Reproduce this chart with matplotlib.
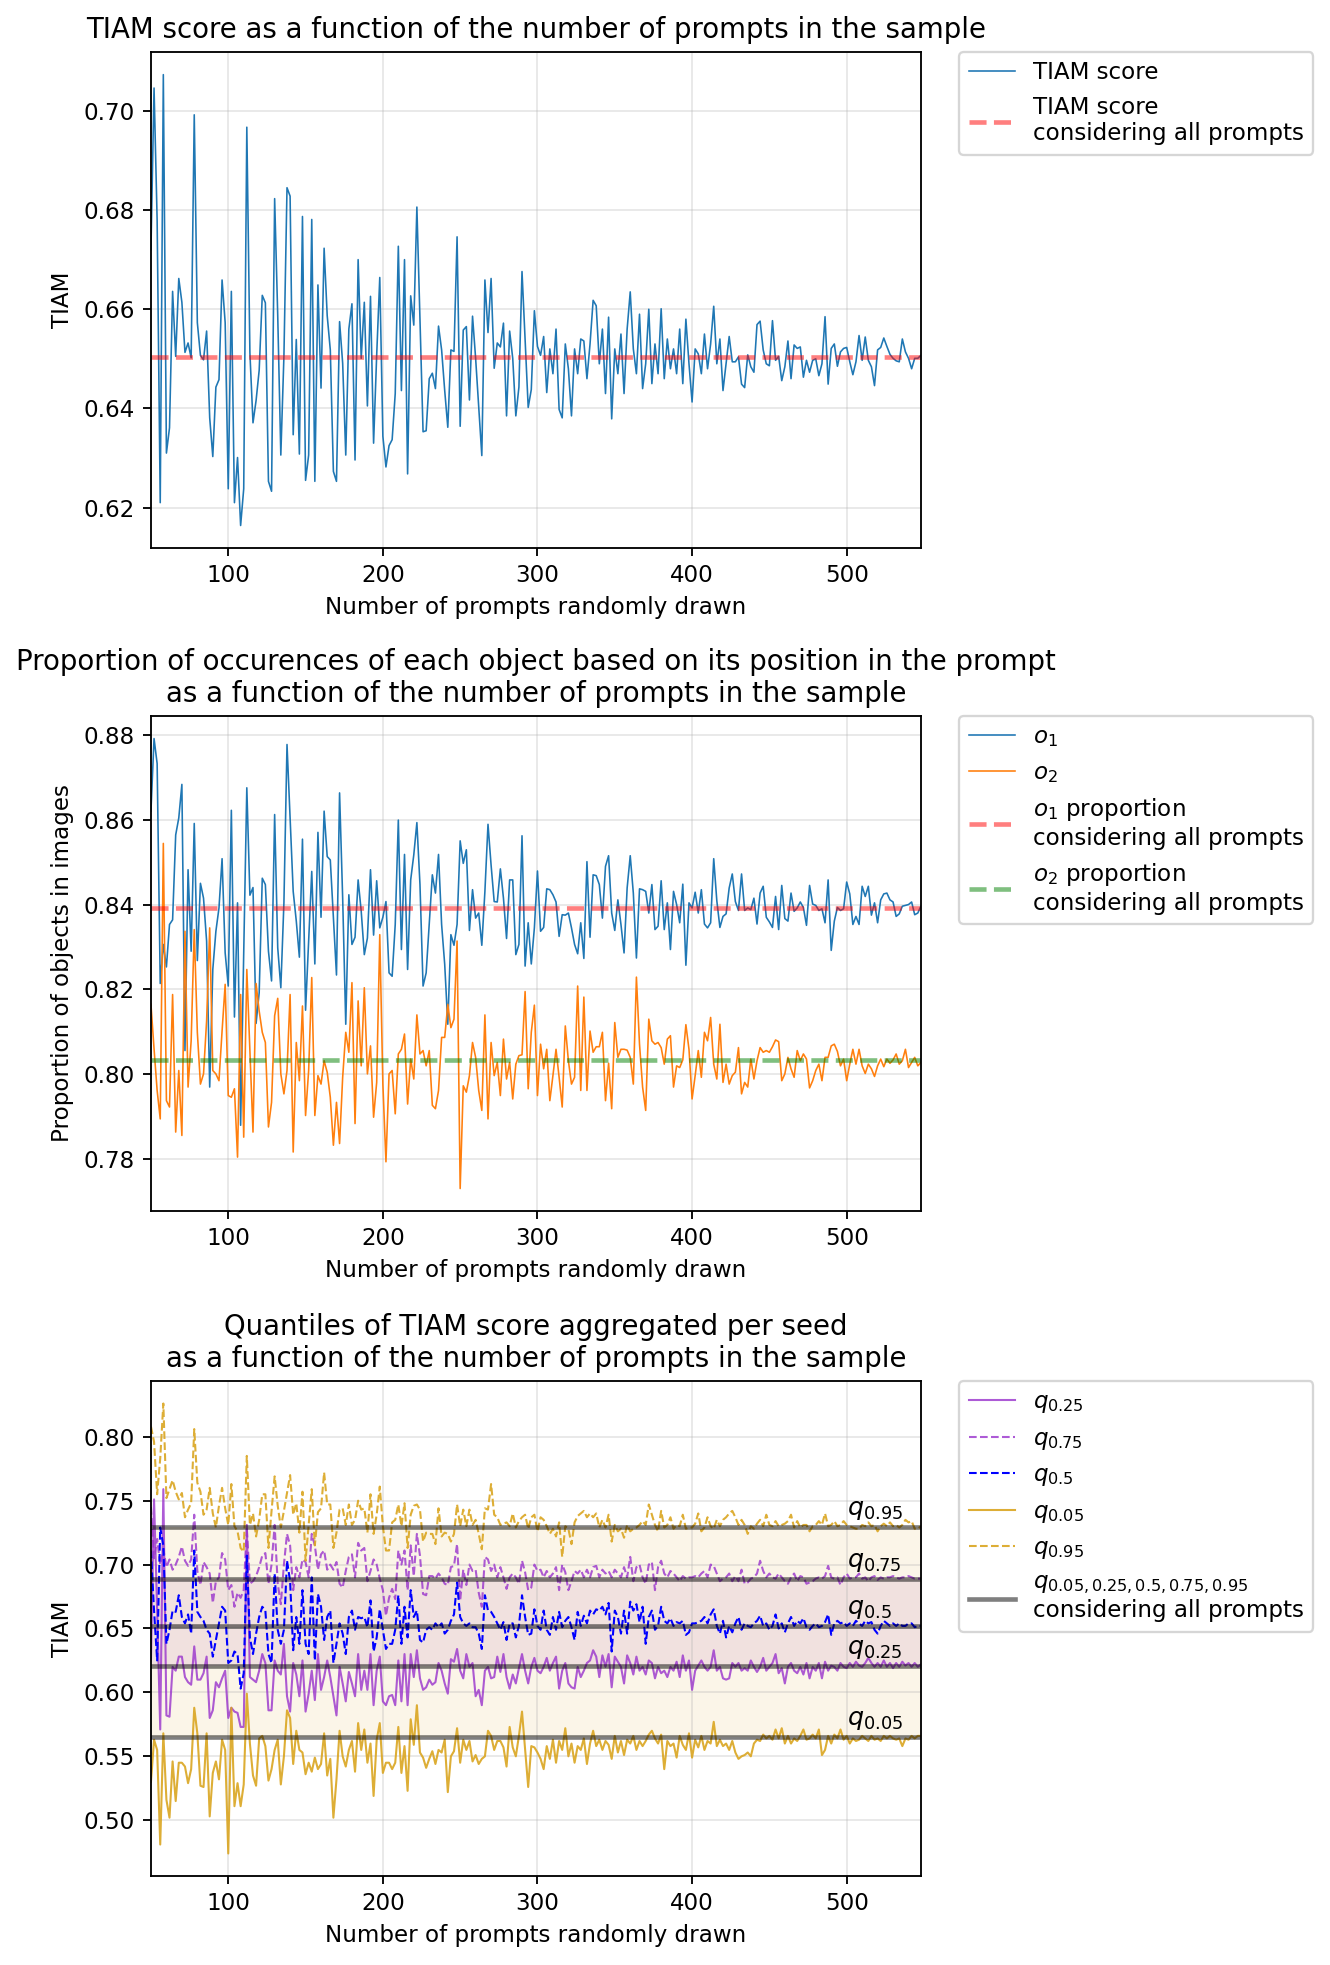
import numpy as np
import matplotlib
matplotlib.use("Agg")
import matplotlib.pyplot as plt

n_prompts = list(range(50, 550, 2))

tiam_score = [
    0.672, 0.7046, 0.6779, 0.6210, 0.7073, 0.6310, 0.6361, 0.6636, 0.6505, 0.6662,
    0.6614, 0.6513, 0.6532, 0.6502, 0.6992, 0.6573, 0.6507, 0.6498, 0.6556, 0.6381,
    0.6303, 0.6443, 0.6458, 0.6659, 0.6573, 0.6238, 0.6636, 0.6210, 0.6301, 0.6164,
    0.6238, 0.6967, 0.6512, 0.6371, 0.6416, 0.6477, 0.6628, 0.6613, 0.6253, 0.6233,
    0.6823, 0.6587, 0.6306, 0.6505, 0.6845, 0.6828, 0.6347, 0.6539, 0.6308, 0.6787,
    0.6255, 0.6306, 0.6781, 0.6253, 0.6649, 0.6441, 0.6723, 0.6587, 0.6518, 0.6273,
    0.6253, 0.6575, 0.6491, 0.6306, 0.6560, 0.6611, 0.6296, 0.6700, 0.6501, 0.6614,
    0.6405, 0.6626, 0.6330, 0.6507, 0.6664, 0.6344, 0.6282, 0.6325, 0.6337, 0.6430,
    0.6727, 0.6436, 0.6700, 0.6268, 0.6627, 0.6568, 0.6806, 0.6580, 0.6353, 0.6355,
    0.6460, 0.6471, 0.6440, 0.6566, 0.6518, 0.6436, 0.6362, 0.6518, 0.6515, 0.6746,
    0.6364, 0.6558, 0.6565, 0.6417, 0.6586, 0.6501, 0.6402, 0.6305, 0.6659, 0.6553,
    0.6662, 0.6481, 0.6532, 0.6524, 0.6572, 0.6385, 0.6556, 0.6501, 0.6385, 0.6443,
    0.6676, 0.6539, 0.6402, 0.6438, 0.6597, 0.6525, 0.6507, 0.6545, 0.6432, 0.6520,
    0.6470, 0.6560, 0.6398, 0.6381, 0.6530, 0.6480, 0.6385, 0.6520, 0.6470, 0.6540,
    0.6536, 0.6460, 0.6530, 0.6618, 0.6607, 0.6490, 0.6560, 0.6430, 0.6584, 0.6379,
    0.6520, 0.6470, 0.6550, 0.6430, 0.6560, 0.6635, 0.6520, 0.6470, 0.6590, 0.6440,
    0.6490, 0.6600, 0.6450, 0.6530, 0.6470, 0.6601, 0.6460, 0.6540, 0.6480, 0.6520,
    0.6470, 0.6560, 0.6450, 0.6580, 0.6490, 0.6413, 0.6520, 0.6510, 0.6470, 0.6550,
    0.6480, 0.6530, 0.6606, 0.6490, 0.6540, 0.6436, 0.6490, 0.6545, 0.6494, 0.6494,
    0.6504, 0.6449, 0.6442, 0.6508, 0.6484, 0.6473, 0.6569, 0.6576, 0.6518, 0.6490,
    0.6486, 0.6577, 0.6497, 0.6505, 0.6456, 0.6484, 0.6536, 0.6460, 0.6528, 0.6521,
    0.6524, 0.6463, 0.6497, 0.6473, 0.6497, 0.6500, 0.6466, 0.6490, 0.6585, 0.6449,
    0.6521, 0.6530, 0.6485, 0.6514, 0.6521, 0.6523, 0.6494, 0.6468, 0.6494, 0.6547,
    0.6497, 0.6544, 0.6497, 0.6484, 0.6446, 0.6518, 0.6523, 0.6542, 0.6525, 0.6509,
    0.6501, 0.6496, 0.6494, 0.6540, 0.6514, 0.6501, 0.6480, 0.6501, 0.6501, 0.6507,
]
tiam_all = 0.6504

o1_prop = [
    0.862, 0.8791, 0.8732, 0.8214, 0.8306, 0.8253, 0.8353, 0.8364, 0.8564, 0.8604,
    0.8683, 0.8056, 0.8482, 0.8290, 0.8591, 0.8268, 0.8450, 0.8415, 0.8314, 0.7970,
    0.8247, 0.8337, 0.8392, 0.8508, 0.8286, 0.8208, 0.8622, 0.8135, 0.8404, 0.7880,
    0.8286, 0.8675, 0.8422, 0.8440, 0.8120, 0.8192, 0.8462, 0.8447, 0.8290, 0.8220,
    0.8612, 0.8298, 0.8204, 0.8404, 0.8777, 0.8603, 0.8431, 0.8361, 0.8276, 0.8554,
    0.8151, 0.8314, 0.8478, 0.8260, 0.8570, 0.8370, 0.8620, 0.8513, 0.8505, 0.8368,
    0.8234, 0.8663, 0.8415, 0.8118, 0.8423, 0.8306, 0.8323, 0.8458, 0.8384, 0.8282,
    0.8321, 0.8482, 0.8328, 0.8456, 0.8345, 0.8370, 0.8407, 0.8239, 0.8231, 0.8353,
    0.8599, 0.8294, 0.8518, 0.8247, 0.8458, 0.8517, 0.8593, 0.8447, 0.8208, 0.8239,
    0.8353, 0.8470, 0.8427, 0.8518, 0.8353, 0.8259, 0.8118, 0.8329, 0.8304, 0.8353,
    0.8550, 0.8497, 0.8529, 0.8339, 0.8435, 0.8368, 0.8380, 0.8304, 0.8431, 0.8589,
    0.8493, 0.8407, 0.8406, 0.8484, 0.8415, 0.8320, 0.8458, 0.8458, 0.8282, 0.8306,
    0.8562, 0.8255, 0.8357, 0.8260, 0.8345, 0.8479, 0.8337, 0.8346, 0.8437, 0.8435,
    0.8423, 0.8406, 0.8325, 0.8376, 0.8375, 0.8380, 0.8345, 0.8306, 0.8284, 0.8357,
    0.8273, 0.8501, 0.8323, 0.8470, 0.8468, 0.8447, 0.8368, 0.8490, 0.8515, 0.8380,
    0.8339, 0.8411, 0.8353, 0.8286, 0.8439, 0.8515, 0.8427, 0.8274, 0.8437, 0.8435,
    0.8431, 0.8380, 0.8447, 0.8341, 0.8349, 0.8456, 0.8341, 0.8404, 0.8294, 0.8431,
    0.8400, 0.8357, 0.8448, 0.8257, 0.8404, 0.8392, 0.8429, 0.8380, 0.8435, 0.8354,
    0.8345, 0.8357, 0.8508, 0.8409, 0.8346, 0.8372, 0.8378, 0.8439, 0.8472, 0.8407,
    0.8386, 0.8472, 0.8386, 0.8392, 0.8388, 0.8415, 0.8354, 0.8427, 0.8443, 0.8370,
    0.8359, 0.8346, 0.8419, 0.8341, 0.8445, 0.8367, 0.8361, 0.8427, 0.8384, 0.8392,
    0.8406, 0.8393, 0.8351, 0.8445, 0.8401, 0.8398, 0.8386, 0.8390, 0.8357, 0.8458,
    0.8292, 0.8361, 0.8393, 0.8386, 0.8390, 0.8453, 0.8425, 0.8353, 0.8372, 0.8353,
    0.8443, 0.8419, 0.8443, 0.8375, 0.8404, 0.8357, 0.8411, 0.8425, 0.8427, 0.8411,
    0.8406, 0.8372, 0.8378, 0.8396, 0.8398, 0.8400, 0.8406, 0.8376, 0.8380, 0.8396,
]
o2_prop = [
    0.8165, 0.8060, 0.7962, 0.7895, 0.8544, 0.7938, 0.7923, 0.8188, 0.7864, 0.8009,
    0.7856, 0.8337, 0.7970, 0.8079, 0.8341, 0.8099, 0.7977, 0.8001, 0.8126, 0.8345,
    0.8009, 0.8001, 0.7985, 0.8102, 0.8212, 0.7950, 0.7946, 0.7966, 0.7805, 0.8188,
    0.7852, 0.8247, 0.8056, 0.7864, 0.8214, 0.8149, 0.8099, 0.8075, 0.7876, 0.7934,
    0.8138, 0.8179, 0.8001, 0.7954, 0.8009, 0.8188, 0.7817, 0.8075, 0.7985, 0.8161,
    0.7903, 0.8009, 0.8228, 0.7903, 0.7997, 0.7977, 0.8032, 0.8005, 0.7946, 0.7833,
    0.7934, 0.7837, 0.7993, 0.8099, 0.8052, 0.8216, 0.7884, 0.8173, 0.8020, 0.8204,
    0.8001, 0.8067, 0.7899, 0.7981, 0.8329, 0.7977, 0.7794, 0.8001, 0.8009, 0.7907,
    0.8048, 0.8059, 0.8095, 0.7930, 0.8036, 0.7989, 0.8140, 0.8048, 0.8056, 0.8020,
    0.8056, 0.7927, 0.7919, 0.7962, 0.8087, 0.8087, 0.8165, 0.8110, 0.8130, 0.8314,
    0.7731, 0.7973, 0.7958, 0.7997, 0.8075, 0.8040, 0.7962, 0.7915, 0.8140, 0.7895,
    0.8075, 0.7997, 0.8028, 0.7950, 0.8083, 0.7989, 0.8028, 0.7942, 0.8024, 0.8044,
    0.8046, 0.8195, 0.7966, 0.8099, 0.8163, 0.7950, 0.8071, 0.8013, 0.8059, 0.7938,
    0.7997, 0.8059, 0.7993, 0.7923, 0.8114, 0.8032, 0.7977, 0.7993, 0.8208, 0.7962,
    0.8182, 0.7962, 0.8102, 0.8052, 0.8065, 0.8065, 0.8099, 0.7938, 0.8026, 0.7919,
    0.8122, 0.8040, 0.8059, 0.8059, 0.8057, 0.8040, 0.7977, 0.8229, 0.8071, 0.7970,
    0.7915, 0.8130, 0.8079, 0.8071, 0.8075, 0.8063, 0.8024, 0.8083, 0.8091, 0.7970,
    0.8020, 0.8016, 0.8034, 0.8117, 0.8059, 0.7942, 0.7997, 0.8056, 0.7993, 0.8099,
    0.8079, 0.8134, 0.8024, 0.7989, 0.8118, 0.7981, 0.8024, 0.7977, 0.7997, 0.8005,
    0.8063, 0.7954, 0.7981, 0.7970, 0.8036, 0.7989, 0.8032, 0.8063, 0.8052, 0.8056,
    0.8052, 0.8065, 0.8081, 0.8077, 0.7985, 0.8001, 0.8040, 0.8013, 0.7993, 0.8056,
    0.8032, 0.8048, 0.8036, 0.7968, 0.7985, 0.8009, 0.8024, 0.7985, 0.8040, 0.8040,
    0.8067, 0.8071, 0.8054, 0.8020, 0.8036, 0.7985, 0.8024, 0.8059, 0.8024, 0.8059,
    0.8020, 0.8002, 0.8024, 0.8013, 0.7995, 0.8020, 0.8036, 0.8018, 0.8036, 0.8026,
    0.8034, 0.8048, 0.8024, 0.8032, 0.8059, 0.8016, 0.8028, 0.8040, 0.8020, 0.8028,
]
o1_all = 0.8391
o2_all = 0.8033

q05 = [
    0.530, 0.563, 0.555, 0.481, 0.568, 0.516, 0.502, 0.546, 0.515, 0.545,
    0.545, 0.542, 0.529, 0.540, 0.588, 0.568, 0.527, 0.526, 0.568, 0.503,
    0.537, 0.546, 0.532, 0.563, 0.555, 0.474, 0.588, 0.511, 0.529, 0.511,
    0.528, 0.599, 0.560, 0.535, 0.527, 0.564, 0.566, 0.558, 0.531, 0.540,
    0.555, 0.563, 0.528, 0.550, 0.586, 0.580, 0.544, 0.570, 0.555, 0.553,
    0.536, 0.545, 0.538, 0.549, 0.540, 0.544, 0.568, 0.535, 0.548, 0.502,
    0.532, 0.570, 0.550, 0.542, 0.555, 0.562, 0.538, 0.576, 0.555, 0.571,
    0.545, 0.560, 0.519, 0.563, 0.576, 0.537, 0.545, 0.545, 0.540, 0.545,
    0.573, 0.537, 0.558, 0.523, 0.579, 0.559, 0.590, 0.553, 0.549, 0.541,
    0.548, 0.554, 0.544, 0.555, 0.553, 0.563, 0.522, 0.550, 0.554, 0.572,
    0.545, 0.563, 0.555, 0.562, 0.546, 0.551, 0.544, 0.548, 0.550, 0.570,
    0.566, 0.555, 0.562, 0.562, 0.557, 0.542, 0.573, 0.557, 0.550, 0.566,
    0.585, 0.555, 0.526, 0.558, 0.557, 0.553, 0.548, 0.540, 0.558, 0.548,
    0.563, 0.545, 0.562, 0.555, 0.572, 0.550, 0.560, 0.545, 0.558, 0.555,
    0.564, 0.544, 0.560, 0.570, 0.558, 0.563, 0.555, 0.562, 0.559, 0.548,
    0.566, 0.553, 0.562, 0.551, 0.563, 0.560, 0.566, 0.555, 0.562, 0.558,
    0.562, 0.567, 0.570, 0.564, 0.560, 0.567, 0.540, 0.562, 0.558, 0.560,
    0.549, 0.566, 0.559, 0.555, 0.568, 0.549, 0.563, 0.557, 0.566, 0.555,
    0.562, 0.560, 0.577, 0.558, 0.563, 0.558, 0.560, 0.555, 0.562, 0.553,
    0.548, 0.550, 0.551, 0.553, 0.550, 0.560, 0.563, 0.562, 0.567, 0.564,
    0.566, 0.563, 0.571, 0.564, 0.572, 0.560, 0.566, 0.560, 0.564, 0.562,
    0.566, 0.571, 0.563, 0.564, 0.567, 0.564, 0.571, 0.551, 0.555, 0.566,
    0.560, 0.567, 0.564, 0.571, 0.563, 0.566, 0.560, 0.564, 0.562, 0.563,
    0.566, 0.564, 0.562, 0.566, 0.563, 0.564, 0.562, 0.566, 0.564, 0.566,
    0.564, 0.563, 0.564, 0.558, 0.564, 0.563, 0.566, 0.564, 0.566, 0.566,
]
q25 = [
    0.625, 0.751, 0.664, 0.571, 0.759, 0.582, 0.581, 0.620, 0.617, 0.628,
    0.628, 0.612, 0.608, 0.606, 0.636, 0.610, 0.610, 0.615, 0.628, 0.580,
    0.586, 0.608, 0.604, 0.611, 0.617, 0.580, 0.588, 0.585, 0.584, 0.573,
    0.573, 0.731, 0.612, 0.610, 0.608, 0.617, 0.630, 0.623, 0.586, 0.586,
    0.625, 0.617, 0.614, 0.638, 0.597, 0.585, 0.623, 0.614, 0.597, 0.625,
    0.585, 0.599, 0.617, 0.594, 0.630, 0.602, 0.612, 0.625, 0.612, 0.597,
    0.582, 0.620, 0.607, 0.593, 0.616, 0.607, 0.597, 0.630, 0.602, 0.617,
    0.602, 0.630, 0.590, 0.617, 0.628, 0.593, 0.590, 0.597, 0.598, 0.590,
    0.625, 0.593, 0.630, 0.590, 0.630, 0.612, 0.633, 0.611, 0.602, 0.604,
    0.610, 0.606, 0.608, 0.623, 0.617, 0.607, 0.599, 0.626, 0.624, 0.634,
    0.617, 0.611, 0.630, 0.620, 0.623, 0.597, 0.602, 0.590, 0.617, 0.620,
    0.611, 0.612, 0.628, 0.616, 0.630, 0.612, 0.603, 0.614, 0.607, 0.619,
    0.630, 0.617, 0.607, 0.620, 0.627, 0.617, 0.615, 0.620, 0.627, 0.617,
    0.623, 0.628, 0.603, 0.617, 0.623, 0.607, 0.604, 0.603, 0.620, 0.612,
    0.617, 0.623, 0.625, 0.633, 0.628, 0.612, 0.629, 0.620, 0.630, 0.604,
    0.628, 0.624, 0.620, 0.607, 0.629, 0.623, 0.614, 0.628, 0.617, 0.620,
    0.614, 0.625, 0.623, 0.611, 0.620, 0.615, 0.617, 0.612, 0.620, 0.617,
    0.624, 0.612, 0.629, 0.617, 0.625, 0.602, 0.617, 0.621, 0.625, 0.620,
    0.617, 0.620, 0.633, 0.617, 0.620, 0.611, 0.610, 0.611, 0.623, 0.620,
    0.623, 0.617, 0.619, 0.617, 0.625, 0.620, 0.616, 0.620, 0.627, 0.617,
    0.620, 0.623, 0.630, 0.615, 0.619, 0.607, 0.620, 0.623, 0.617, 0.615,
    0.620, 0.614, 0.623, 0.611, 0.620, 0.617, 0.623, 0.611, 0.624, 0.617,
    0.621, 0.620, 0.617, 0.623, 0.620, 0.619, 0.623, 0.620, 0.624, 0.621,
    0.620, 0.623, 0.627, 0.623, 0.620, 0.623, 0.620, 0.625, 0.620, 0.623,
    0.619, 0.623, 0.620, 0.624, 0.621, 0.623, 0.620, 0.623, 0.620, 0.622,
]
q50 = [
    0.711, 0.664, 0.625, 0.729, 0.715, 0.638, 0.649, 0.664, 0.663, 0.676,
    0.659, 0.654, 0.661, 0.646, 0.711, 0.663, 0.659, 0.656, 0.649, 0.646,
    0.628, 0.641, 0.654, 0.667, 0.664, 0.623, 0.625, 0.632, 0.630, 0.603,
    0.615, 0.707, 0.643, 0.630, 0.646, 0.659, 0.667, 0.664, 0.630, 0.623,
    0.693, 0.649, 0.638, 0.649, 0.703, 0.687, 0.633, 0.659, 0.638, 0.680,
    0.638, 0.630, 0.690, 0.625, 0.677, 0.667, 0.641, 0.659, 0.664, 0.623,
    0.638, 0.654, 0.646, 0.630, 0.659, 0.664, 0.649, 0.659, 0.658, 0.659,
    0.651, 0.672, 0.632, 0.643, 0.665, 0.649, 0.634, 0.638, 0.638, 0.649,
    0.676, 0.638, 0.667, 0.643, 0.680, 0.659, 0.664, 0.641, 0.639, 0.649,
    0.651, 0.649, 0.654, 0.651, 0.654, 0.646, 0.649, 0.656, 0.661, 0.686,
    0.659, 0.654, 0.652, 0.654, 0.651, 0.651, 0.646, 0.634, 0.676, 0.664,
    0.663, 0.659, 0.654, 0.649, 0.655, 0.641, 0.654, 0.654, 0.643, 0.652,
    0.676, 0.659, 0.645, 0.646, 0.665, 0.652, 0.649, 0.664, 0.649, 0.645,
    0.659, 0.649, 0.663, 0.651, 0.656, 0.659, 0.651, 0.641, 0.663, 0.652,
    0.660, 0.654, 0.664, 0.661, 0.665, 0.664, 0.667, 0.661, 0.670, 0.632,
    0.664, 0.659, 0.646, 0.664, 0.646, 0.671, 0.664, 0.669, 0.655, 0.667,
    0.638, 0.659, 0.664, 0.649, 0.652, 0.667, 0.656, 0.654, 0.658, 0.652,
    0.655, 0.654, 0.656, 0.645, 0.647, 0.654, 0.654, 0.655, 0.656, 0.659,
    0.654, 0.661, 0.665, 0.652, 0.646, 0.656, 0.643, 0.652, 0.647, 0.654,
    0.659, 0.649, 0.654, 0.652, 0.651, 0.654, 0.656, 0.660, 0.652, 0.654,
    0.649, 0.652, 0.661, 0.650, 0.654, 0.647, 0.654, 0.659, 0.652, 0.656,
    0.654, 0.658, 0.651, 0.649, 0.652, 0.654, 0.651, 0.652, 0.655, 0.661,
    0.645, 0.654, 0.656, 0.654, 0.655, 0.652, 0.654, 0.652, 0.656, 0.654,
    0.652, 0.656, 0.654, 0.655, 0.649, 0.646, 0.652, 0.656, 0.654, 0.652,
    0.654, 0.652, 0.654, 0.652, 0.652, 0.654, 0.654, 0.651, 0.652, 0.652,
]
q75 = [
    0.745, 0.705, 0.720, 0.700, 0.712, 0.698, 0.704, 0.696, 0.700, 0.706,
    0.714, 0.703, 0.699, 0.704, 0.739, 0.695, 0.684, 0.702, 0.698, 0.693,
    0.670, 0.687, 0.690, 0.709, 0.704, 0.680, 0.684, 0.667, 0.678, 0.674,
    0.680, 0.729, 0.685, 0.687, 0.691, 0.698, 0.707, 0.709, 0.685, 0.700,
    0.731, 0.685, 0.669, 0.700, 0.724, 0.715, 0.680, 0.698, 0.690, 0.704,
    0.702, 0.690, 0.724, 0.715, 0.696, 0.708, 0.711, 0.696, 0.700, 0.696,
    0.702, 0.685, 0.682, 0.695, 0.706, 0.708, 0.690, 0.717, 0.711, 0.713,
    0.687, 0.695, 0.704, 0.700, 0.689, 0.680, 0.660, 0.674, 0.681, 0.673,
    0.711, 0.700, 0.711, 0.680, 0.715, 0.691, 0.724, 0.707, 0.677, 0.676,
    0.691, 0.691, 0.689, 0.693, 0.690, 0.685, 0.684, 0.698, 0.699, 0.716,
    0.672, 0.696, 0.684, 0.700, 0.695, 0.696, 0.678, 0.667, 0.706, 0.704,
    0.695, 0.700, 0.690, 0.698, 0.690, 0.681, 0.690, 0.693, 0.690, 0.685,
    0.703, 0.694, 0.680, 0.682, 0.700, 0.695, 0.696, 0.690, 0.695, 0.690,
    0.693, 0.698, 0.680, 0.700, 0.694, 0.680, 0.687, 0.695, 0.693, 0.696,
    0.690, 0.696, 0.690, 0.698, 0.699, 0.690, 0.696, 0.693, 0.695, 0.690,
    0.696, 0.693, 0.690, 0.698, 0.690, 0.706, 0.687, 0.698, 0.700, 0.690,
    0.685, 0.700, 0.702, 0.680, 0.698, 0.703, 0.693, 0.690, 0.695, 0.693,
    0.690, 0.687, 0.691, 0.689, 0.690, 0.690, 0.691, 0.690, 0.693, 0.695,
    0.690, 0.700, 0.699, 0.693, 0.687, 0.689, 0.690, 0.693, 0.687, 0.691,
    0.687, 0.696, 0.685, 0.686, 0.689, 0.690, 0.693, 0.703, 0.695, 0.690,
    0.693, 0.690, 0.689, 0.693, 0.690, 0.687, 0.685, 0.690, 0.693, 0.687,
    0.691, 0.690, 0.685, 0.686, 0.687, 0.689, 0.690, 0.689, 0.691, 0.699,
    0.690, 0.689, 0.690, 0.684, 0.690, 0.693, 0.689, 0.690, 0.690, 0.693,
    0.689, 0.690, 0.687, 0.690, 0.691, 0.688, 0.690, 0.689, 0.690, 0.690,
    0.691, 0.690, 0.689, 0.690, 0.690, 0.691, 0.690, 0.689, 0.689, 0.689,
]
q95 = [
    0.808, 0.796, 0.755, 0.783, 0.826, 0.752, 0.759, 0.766, 0.757, 0.751,
    0.756, 0.737, 0.743, 0.748, 0.806, 0.764, 0.757, 0.739, 0.743, 0.760,
    0.740, 0.729, 0.746, 0.760, 0.744, 0.731, 0.763, 0.730, 0.726, 0.713,
    0.710, 0.785, 0.731, 0.740, 0.722, 0.735, 0.755, 0.755, 0.713, 0.742,
    0.769, 0.746, 0.729, 0.742, 0.756, 0.770, 0.739, 0.748, 0.725, 0.757,
    0.703, 0.731, 0.759, 0.715, 0.741, 0.744, 0.772, 0.747, 0.747, 0.713,
    0.725, 0.743, 0.744, 0.731, 0.747, 0.731, 0.735, 0.750, 0.743, 0.744,
    0.725, 0.755, 0.724, 0.739, 0.761, 0.730, 0.711, 0.711, 0.733, 0.735,
    0.747, 0.730, 0.748, 0.713, 0.739, 0.746, 0.747, 0.743, 0.718, 0.725,
    0.724, 0.724, 0.716, 0.744, 0.722, 0.725, 0.724, 0.718, 0.724, 0.747,
    0.730, 0.743, 0.730, 0.743, 0.731, 0.735, 0.724, 0.712, 0.744, 0.743,
    0.763, 0.739, 0.737, 0.731, 0.732, 0.733, 0.730, 0.740, 0.729, 0.734,
    0.737, 0.739, 0.728, 0.737, 0.739, 0.726, 0.737, 0.735, 0.730, 0.724,
    0.728, 0.722, 0.733, 0.706, 0.730, 0.728, 0.716, 0.733, 0.738, 0.740,
    0.742, 0.737, 0.740, 0.737, 0.740, 0.729, 0.735, 0.729, 0.739, 0.718,
    0.731, 0.726, 0.728, 0.721, 0.731, 0.726, 0.728, 0.729, 0.731, 0.734,
    0.731, 0.747, 0.739, 0.731, 0.726, 0.742, 0.729, 0.731, 0.737, 0.728,
    0.731, 0.730, 0.739, 0.728, 0.729, 0.729, 0.732, 0.740, 0.726, 0.729,
    0.737, 0.730, 0.728, 0.735, 0.730, 0.735, 0.737, 0.740, 0.742, 0.737,
    0.731, 0.735, 0.731, 0.724, 0.730, 0.728, 0.732, 0.735, 0.730, 0.739,
    0.731, 0.730, 0.734, 0.730, 0.731, 0.732, 0.734, 0.739, 0.729, 0.734,
    0.729, 0.731, 0.731, 0.726, 0.730, 0.731, 0.734, 0.731, 0.740, 0.730,
    0.731, 0.734, 0.730, 0.731, 0.734, 0.731, 0.730, 0.729, 0.728, 0.728,
    0.731, 0.730, 0.733, 0.730, 0.731, 0.726, 0.730, 0.732, 0.730, 0.733,
    0.730, 0.731, 0.729, 0.731, 0.735, 0.733, 0.734, 0.728, 0.728, 0.730,
]
q_levels = ["0.05", "0.25", "0.5", "0.75", "0.95"]
q_all = [0.5651, 0.6208, 0.6519, 0.6886, 0.7296]

xlabel = "Number of prompts randomly drawn"
all_txt = "considering all prompts"

fig = plt.figure(figsize=(1330 / 166, 1965 / 166), dpi=166)
ax1 = fig.add_axes([0.1135, 0.7211, 0.5789, 0.2524])
ax2 = fig.add_axes([0.1135, 0.3837, 0.5789, 0.2519])
ax3 = fig.add_axes([0.1135, 0.0453, 0.5789, 0.2519])

# TIAM score
ax1.plot(n_prompts, tiam_score, color="tab:blue", linewidth=0.7, label="TIAM score")
ax1.axhline(tiam_all, color="red", linestyle="--", linewidth=2, alpha=0.5,
            label="TIAM score\n" + all_txt)
ax1.set_title("TIAM score as a function of the number of prompts in the sample")
ax1.set_ylabel("TIAM")

# object proportions
ax2.plot(n_prompts, o1_prop, color="tab:blue", linewidth=0.7, label="$o_1$")
ax2.plot(n_prompts, o2_prop, color="tab:orange", linewidth=0.7, label="$o_2$")
ax2.axhline(o1_all, color="red", linestyle="--", linewidth=2, alpha=0.5,
            label="$o_1$ proportion\n" + all_txt)
ax2.axhline(o2_all, color="green", linestyle="--", linewidth=2, alpha=0.5,
            label="$o_2$ proportion\n" + all_txt)
ax2.set_title("Proportion of occurences of each object based on its position in the prompt\n"
              "as a function of the number of prompts in the sample")
ax2.set_ylabel("Proportion of objects in images")

# quantiles
ax3.axhspan(q_all[0], q_all[4], color="goldenrod", alpha=0.1, linewidth=0)
ax3.axhspan(q_all[1], q_all[3], color="purple", alpha=0.08, linewidth=0)
ax3.plot(n_prompts, q25, color="darkorchid", linewidth=0.9, alpha=0.8, label="$q_{0.25}$")
ax3.plot(n_prompts, q75, color="darkorchid", linewidth=0.9, alpha=0.8, linestyle="--",
         label="$q_{0.75}$")
ax3.plot(n_prompts, q50, color="blue", linewidth=0.9, linestyle="--", label="$q_{0.5}$")
ax3.plot(n_prompts, q05, color="goldenrod", linewidth=0.9, alpha=0.9, label="$q_{0.05}$")
ax3.plot(n_prompts, q95, color="goldenrod", linewidth=0.9, alpha=0.9, linestyle="--",
         label="$q_{0.95}$")
for i, q in enumerate(q_all):
    lab = None
    if i == 0:
        lab = "$q_{0.05, 0.25, 0.5, 0.75, 0.95}$\n" + all_txt
    ax3.axhline(q, color="black", linewidth=2, alpha=0.5, label=lab)
    ax3.text(500, q + 0.004, "$q_{" + q_levels[i] + "}$", fontsize=11, va="bottom")
ax3.set_title("Quantiles of TIAM score aggregated per seed\n"
              "as a function of the number of prompts in the sample")
ax3.set_ylabel("TIAM")

for ax in [ax1, ax2, ax3]:
    ax.set_xlim(n_prompts[0], n_prompts[-1])
    ax.grid(alpha=0.3)
    ax.set_xlabel(xlabel)
    ax.legend(loc="upper left", bbox_to_anchor=(1.05, 1), borderaxespad=0)

fig.savefig("out.png", dpi=166)
